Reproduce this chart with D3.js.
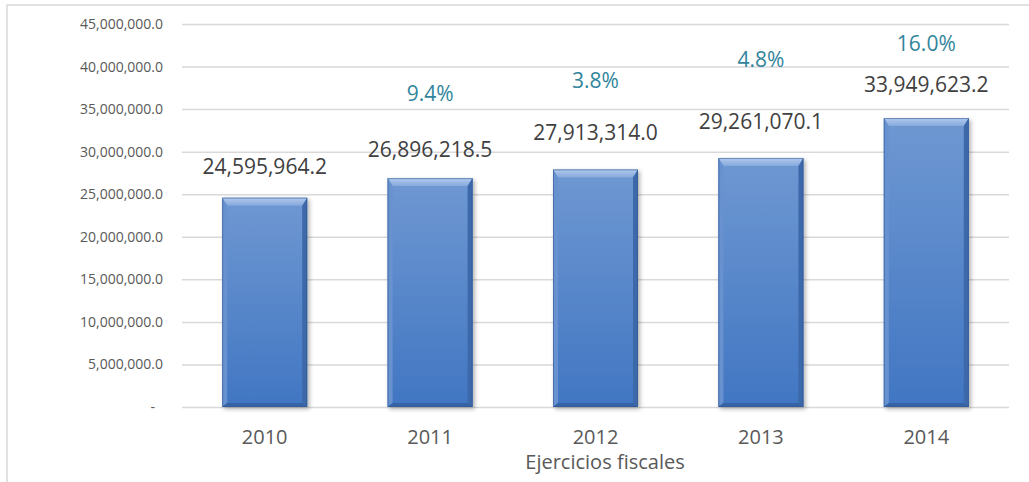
<!DOCTYPE html>
<html>
<head>
<meta charset="utf-8">
<script src="https://cdn.jsdelivr.net/npm/d3@7"></script>
<style>
  body { margin: 0; background: #fff; }
  svg { display: block; font-family: "Open Sans", sans-serif; }
</style>
</head>
<body>
<svg id="chart"></svg>
<script>
// data
var years = ["2010", "2011", "2012", "2013", "2014"]
var amounts = [24595964.2, 26896218.5, 27913314.0, 29261070.1, 33949623.2]
var growth = [null, 0.094, 0.038, 0.048, 0.160]
var yTicks = [0, 5e6, 10e6, 15e6, 20e6, 25e6, 30e6, 35e6, 40e6, 45e6]

// where the growth labels sit, in axis units (they were placed by hand)
var growthLabelAt = [null, 36.0e6, 37.5e6, 39.9e6, 41.8e6]
// small manual shifts of the amount labels (px above the bar)
var amountLabelLift = [24, 21, 29, 29, 26]

var width = 1029
var height = 482
var svg = d3.select("#chart").attr("width", width).attr("height", height)

// plot area (window.top is reserved, so use other names)
var plotLeft = 182, plotRight = 1009, plotTop = 24, plotBottom = 407

var x = d3.scaleBand().domain(years).range([plotLeft, plotRight])
	.paddingInner(0.486).paddingOuter(0.243)
var y = d3.scaleLinear().domain([0, 45e6]).range([plotBottom, plotTop])

var fmt = d3.format(",.1f")
var pct = d3.format(".1%")

// outer frame (only top and left edges show)
svg.append("path")
	.attr("d", "M7,482 L7,5 L1029,5")
	.attr("fill", "none").attr("stroke", "#d9d9d9").attr("stroke-width", 1.5)

var defs = svg.append("defs")
var grad = defs.append("linearGradient").attr("id", "barFill")
	.attr("x1", 0).attr("y1", 0).attr("x2", 0).attr("y2", 1)
grad.append("stop").attr("offset", "0%").attr("stop-color", "#6f98d2")
grad.append("stop").attr("offset", "100%").attr("stop-color", "#4176c2")

var topGrad = defs.append("linearGradient").attr("id", "bevelTop")
	.attr("x1", 0).attr("y1", 0).attr("x2", 0).attr("y2", 1)
topGrad.append("stop").attr("offset", "0%").attr("stop-color", "#b3cbee")
topGrad.append("stop").attr("offset", "100%").attr("stop-color", "#85a8dc")

var shadow = defs.append("filter").attr("id", "shadow")
	.attr("x", "-20%").attr("y", "-10%").attr("width", "140%").attr("height", "120%")
shadow.append("feDropShadow").attr("dx", 2).attr("dy", 2).attr("stdDeviation", 2)
	.attr("flood-color", "#000").attr("flood-opacity", 0.3)

// y axis with gridlines
var yAxis = d3.axisLeft(y).tickValues(yTicks)
	.tickSize(-(plotRight - plotLeft)).tickPadding(19)
	.tickFormat(function(d) { return d == 0 ? "-" : fmt(d) })

var ga = svg.append("g").attr("transform", "translate(" + plotLeft + ",0)").call(yAxis)
ga.select(".domain").remove()
ga.selectAll("line").attr("stroke", "#d9d9d9").attr("stroke-width", 1.5)
ga.selectAll("text")
	.attr("fill", "#595959")
	.style("font-size", "14px")
	.style("font-family", "'Open Sans', sans-serif")
	.attr("dx", function(d) { return d == 0 ? -8 : 0 })

// bars with a bevel look
var bvTop = 8, bvSide = 5, bvBottom = 4
var bars = svg.append("g").selectAll("g").data(amounts).enter().append("g")
	.attr("filter", "url(#shadow)")

bars.append("rect")
	.attr("x", function(d, i) { return x(years[i]) })
	.attr("y", function(d) { return y(d) })
	.attr("width", x.bandwidth())
	.attr("height", function(d) { return y(0) - y(d) })
	.attr("fill", "url(#barFill)")

function bevel(d, i, side) {
	var x0 = x(years[i]), x1 = x0 + x.bandwidth()
	var y0 = y(d), y1 = y(0)
	if (side == "top") return [[x0, y0], [x1, y0], [x1 - bvSide, y0 + bvTop], [x0 + bvSide, y0 + bvTop]]
	if (side == "left") return [[x0, y0], [x0 + bvSide, y0 + bvTop], [x0 + bvSide, y1 - bvBottom], [x0, y1]]
	if (side == "right") return [[x1, y0], [x1, y1], [x1 - bvSide, y1 - bvBottom], [x1 - bvSide, y0 + bvTop]]
	return [[x0, y1], [x0 + bvSide, y1 - bvBottom], [x1 - bvSide, y1 - bvBottom], [x1, y1]]
}
var sides = [["top", "url(#bevelTop)"], ["left", "#6892cf"], ["right", "#3c69aa"], ["bottom", "#3664a6"]]
sides.forEach(function(s) {
	bars.append("polygon")
		.attr("points", function(d, i) { return bevel(d, i, s[0]).join(" ") })
		.attr("fill", s[1])
})
bars.append("rect")
	.attr("x", function(d, i) { return x(years[i]) + 0.5 })
	.attr("y", function(d) { return y(d) + 0.5 })
	.attr("width", x.bandwidth() - 1)
	.attr("height", function(d) { return y(0) - y(d) - 1 })
	.attr("fill", "none").attr("stroke", "#2f5590").attr("stroke-opacity", 0.55)

// amount labels
svg.append("g").selectAll("text").data(amounts).enter().append("text")
	.attr("x", function(d, i) { return x(years[i]) + x.bandwidth() / 2 })
	.attr("y", function(d, i) { return y(d) - amountLabelLift[i] })
	.attr("text-anchor", "middle")
	.attr("fill", "#404040")
	.style("font-size", "21px")
	.text(function(d) { return fmt(d) })

// growth labels
svg.append("g").selectAll("text").data(growth).enter()
	.filter(function(d) { return d != null })
	.append("text")
	.attr("x", function(d) { var i = growth.indexOf(d); return x(years[i]) + x.bandwidth() / 2 })
	.attr("y", function(d) { var i = growth.indexOf(d); return y(growthLabelAt[i]) })
	.attr("text-anchor", "middle")
	.attr("fill", "#31859c")
	.style("font-size", "21px")
	.text(function(d) { return pct(d) })

// category labels
svg.append("g").selectAll("text").data(years).enter().append("text")
	.attr("x", function(d) { return x(d) + x.bandwidth() / 2 })
	.attr("y", 444)
	.attr("text-anchor", "middle")
	.attr("fill", "#595959")
	.style("font-size", "20px")
	.text(function(d) { return d })

// axis title
svg.append("text")
	.attr("x", 605).attr("y", 469)
	.attr("text-anchor", "middle")
	.attr("fill", "#595959")
	.style("font-size", "20px")
	.text("Ejercicios fiscales")
</script>
</body>
</html>
